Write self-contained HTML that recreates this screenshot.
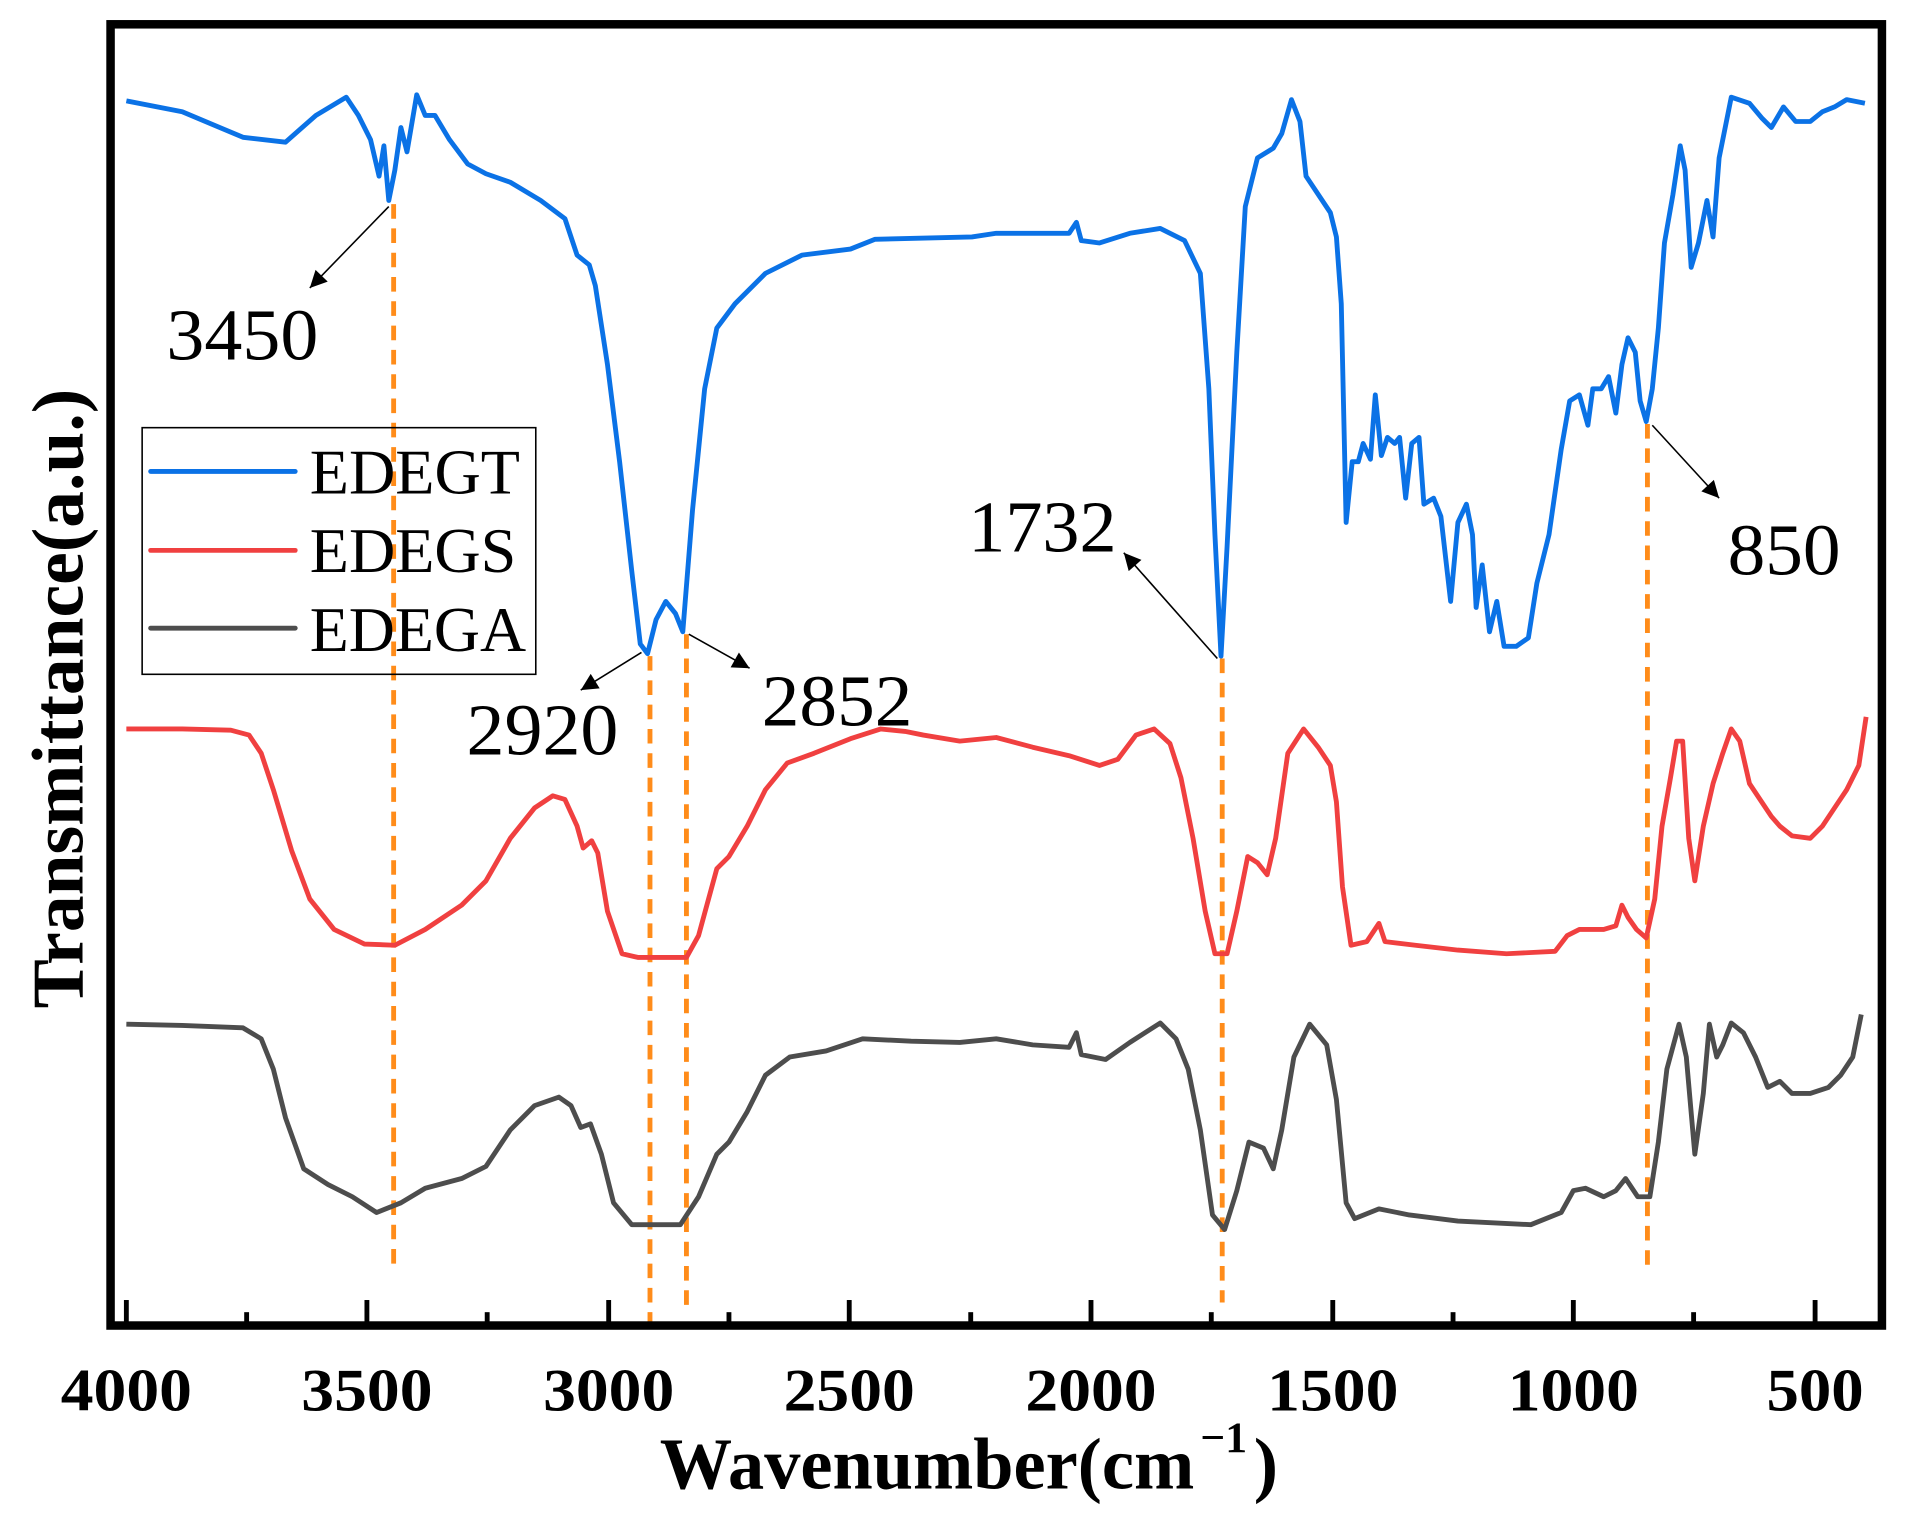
<!DOCTYPE html>
<html><head><meta charset="utf-8"><style>
html,body{margin:0;padding:0;background:#fff;}
svg{display:block;}
text{font-family:"Liberation Serif",serif;}
</style></head><body>
<svg width="1905" height="1513" viewBox="0 0 1568 1245.3" preserveAspectRatio="none" xmlns="http://www.w3.org/2000/svg">
<defs><marker id="ah" viewBox="0 0 10 10" refX="10" refY="5" markerWidth="24" markerHeight="14" orient="auto" markerUnits="userSpaceOnUse"><path d="M0,0 L10,5 L0,10 z" fill="#000"/></marker></defs>
<rect x="0" y="0" width="1568" height="1246" fill="#fff"/>
<g stroke="#ff8c1a" stroke-width="4" stroke-dasharray="12,8" fill="none">
<line x1="324" y1="168" x2="324" y2="1042"/>
<line x1="535" y1="540" x2="535" y2="1095"/>
<line x1="565" y1="522" x2="565" y2="1078"/>
<line x1="1006" y1="542" x2="1006" y2="1072"/>
<line x1="1356" y1="349" x2="1356" y2="1048"/>
</g>
<g fill="none" stroke-width="4" stroke-linejoin="round">
<polyline stroke="#0b72e6" points="104,83 150,92 200,113 235,117 260,95 285,80 295,95 305,115 312,145 316,120 320,165 325,140 330,105 335,125 343,78 350,95 358,95 370,115 385,135 400,143 420,150 445,165 465,180 475,210 485,218 490,235 500,300 510,380 520,470 527,530 533,538 540,510 548,495 556,505 562,520 570,420 580,320 590,270 605,250 630,225 660,210 700,205 720,197 800,195 820,192 880,192 886,183 890,198 905,200 930,192 955,188 975,198 988,225 995,320 1000,440 1005,540 1010,450 1018,290 1025,170 1035,130 1048,122 1055,110 1063,82 1070,100 1075,145 1095,175 1100,195 1104,250 1108,430 1113,380 1118,380 1122,365 1128,378 1132,325 1137,375 1142,360 1148,365 1152,360 1157,410 1162,365 1168,360 1172,415 1180,410 1186,425 1194,495 1200,430 1207,415 1212,440 1215,500 1220,465 1226,520 1232,495 1238,532 1248,532 1258,525 1265,480 1275,440 1285,370 1292,330 1300,325 1307,350 1311,320 1318,320 1324,310 1330,340 1335,300 1340,278 1346,290 1350,330 1355,347 1360,320 1365,270 1370,200 1377,160 1383,120 1387,140 1392,220 1398,200 1405,165 1410,195 1415,130 1425,80 1440,85 1450,97 1458,105 1468,88 1478,100 1490,100 1500,92 1510,88 1520,82 1535,85"/>
<polyline stroke="#f04040" points="104,600 150,600 190,601 205,605 215,620 225,650 240,700 255,740 275,765 300,777 325,778 350,765 380,745 400,725 420,690 440,665 455,655 465,658 475,680 480,698 487,692 492,702 500,750 512,785 525,788 565,788 575,770 590,715 600,705 615,680 630,650 648,628 670,620 700,608 725,600 745,602 760,605 790,610 820,607 850,615 880,622 905,630 920,625 935,605 950,600 963,612 972,640 982,690 992,750 1000,785 1010,785 1018,750 1027,705 1035,710 1043,720 1050,690 1060,620 1073,600 1085,615 1095,630 1100,660 1105,730 1112,778 1125,775 1135,760 1140,775 1165,778 1200,782 1240,785 1280,783 1290,770 1300,765 1320,765 1330,762 1335,745 1340,755 1347,765 1355,772 1362,740 1368,680 1375,640 1380,610 1385,610 1390,690 1395,725 1402,680 1410,645 1418,620 1425,600 1432,610 1440,645 1450,660 1458,672 1465,680 1475,688 1490,690 1500,680 1510,665 1520,650 1530,630 1536,590"/>
<polyline stroke="#4d4d4d" points="104,843 150,844 200,846 215,855 225,880 235,920 250,962 270,975 290,985 310,998 330,990 350,978 380,970 400,960 420,930 440,910 460,903 470,910 478,928 486,925 495,950 505,990 520,1008 560,1008 575,985 590,950 600,940 615,915 630,885 650,870 680,865 710,855 750,857 790,858 820,855 850,860 880,862 886,850 890,868 910,872 930,858 955,842 968,855 978,880 988,930 998,1000 1008,1012 1018,980 1028,940 1040,945 1048,962 1055,930 1065,870 1078,843 1092,860 1100,905 1108,990 1115,1003 1135,995 1160,1000 1200,1005 1260,1008 1285,998 1295,980 1305,978 1320,985 1330,980 1338,970 1348,985 1358,985 1365,940 1372,880 1382,843 1388,870 1395,950 1402,900 1407,843 1413,870 1418,860 1425,842 1435,850 1445,870 1455,895 1465,890 1475,900 1490,900 1505,895 1515,885 1525,870 1532,835"/>
</g>
<g stroke="#000" stroke-width="1.3" fill="none">
<line x1="320" y1="170" x2="255" y2="237" marker-end="url(#ah)"/>
<line x1="528" y1="537" x2="478" y2="568" marker-end="url(#ah)"/>
<line x1="567" y1="522" x2="617" y2="550" marker-end="url(#ah)"/>
<line x1="1002" y1="542" x2="925" y2="455" marker-end="url(#ah)"/>
<line x1="1360" y1="350" x2="1415" y2="410" marker-end="url(#ah)"/>
</g>
<g font-size="60" fill="#000">
<text x="137" y="296" textLength="125" lengthAdjust="spacingAndGlyphs">3450</text>
<text x="384" y="621" textLength="125" lengthAdjust="spacingAndGlyphs">2920</text>
<text x="627" y="597" textLength="124" lengthAdjust="spacingAndGlyphs">2852</text>
<text x="797" y="454" textLength="122" lengthAdjust="spacingAndGlyphs">1732</text>
<text x="1422" y="473" textLength="93" lengthAdjust="spacingAndGlyphs">850</text>
</g>
<rect x="117" y="352" width="324" height="203" fill="none" stroke="#000" stroke-width="1.3"/>
<g stroke-width="4" stroke-linecap="round">
<line x1="124" y1="388" x2="243" y2="388" stroke="#0b72e6"/>
<line x1="124" y1="453" x2="243" y2="453" stroke="#f04040"/>
<line x1="124" y1="517" x2="243" y2="517" stroke="#4d4d4d"/>
</g>
<g font-size="52" fill="#000">
<text x="255" y="406" textLength="173" lengthAdjust="spacingAndGlyphs">EDEGT</text>
<text x="255" y="471" textLength="170" lengthAdjust="spacingAndGlyphs">EDEGS</text>
<text x="255" y="536" textLength="178" lengthAdjust="spacingAndGlyphs">EDEGA</text>
</g>
<rect x="91" y="20" width="1458" height="1071" fill="none" stroke="#000" stroke-width="7"/>
<g stroke="#000" stroke-width="4">
<line x1="104" y1="1091" x2="104" y2="1070"/><line x1="203" y1="1091" x2="203" y2="1080"/>
<line x1="302" y1="1091" x2="302" y2="1070"/><line x1="401" y1="1091" x2="401" y2="1080"/>
<line x1="501" y1="1091" x2="501" y2="1070"/><line x1="600" y1="1091" x2="600" y2="1080"/>
<line x1="699" y1="1091" x2="699" y2="1070"/><line x1="799" y1="1091" x2="799" y2="1080"/>
<line x1="898" y1="1091" x2="898" y2="1070"/><line x1="997" y1="1091" x2="997" y2="1080"/>
<line x1="1097" y1="1091" x2="1097" y2="1070"/><line x1="1196" y1="1091" x2="1196" y2="1080"/>
<line x1="1295" y1="1091" x2="1295" y2="1070"/><line x1="1394" y1="1091" x2="1394" y2="1080"/>
<line x1="1494" y1="1091" x2="1494" y2="1070"/>
</g>
<g font-size="50" font-weight="bold" fill="#000" text-anchor="middle" lengthAdjust="spacingAndGlyphs">
<text x="104" y="1161" textLength="108" lengthAdjust="spacingAndGlyphs">4000</text>
<text x="302" y="1161" textLength="108" lengthAdjust="spacingAndGlyphs">3500</text>
<text x="501" y="1161" textLength="108" lengthAdjust="spacingAndGlyphs">3000</text>
<text x="699" y="1161" textLength="108" lengthAdjust="spacingAndGlyphs">2500</text>
<text x="898" y="1161" textLength="108" lengthAdjust="spacingAndGlyphs">2000</text>
<text x="1097" y="1161" textLength="108" lengthAdjust="spacingAndGlyphs">1500</text>
<text x="1295" y="1161" textLength="108" lengthAdjust="spacingAndGlyphs">1000</text>
<text x="1494" y="1161" textLength="80" lengthAdjust="spacingAndGlyphs">500</text>
</g>
<text x="543" y="1225" font-size="60" font-weight="bold" textLength="440" lengthAdjust="spacingAndGlyphs">Wavenumber(cm</text>
<text x="988" y="1195" font-size="36" font-weight="bold">−1</text>
<text x="1032" y="1225" font-size="60" font-weight="bold">)</text>
<text transform="translate(68,575) rotate(-90)" font-size="60" font-weight="bold" text-anchor="middle" textLength="510" lengthAdjust="spacingAndGlyphs">Transmittance(a.u.)</text>
</svg>
</body></html>
